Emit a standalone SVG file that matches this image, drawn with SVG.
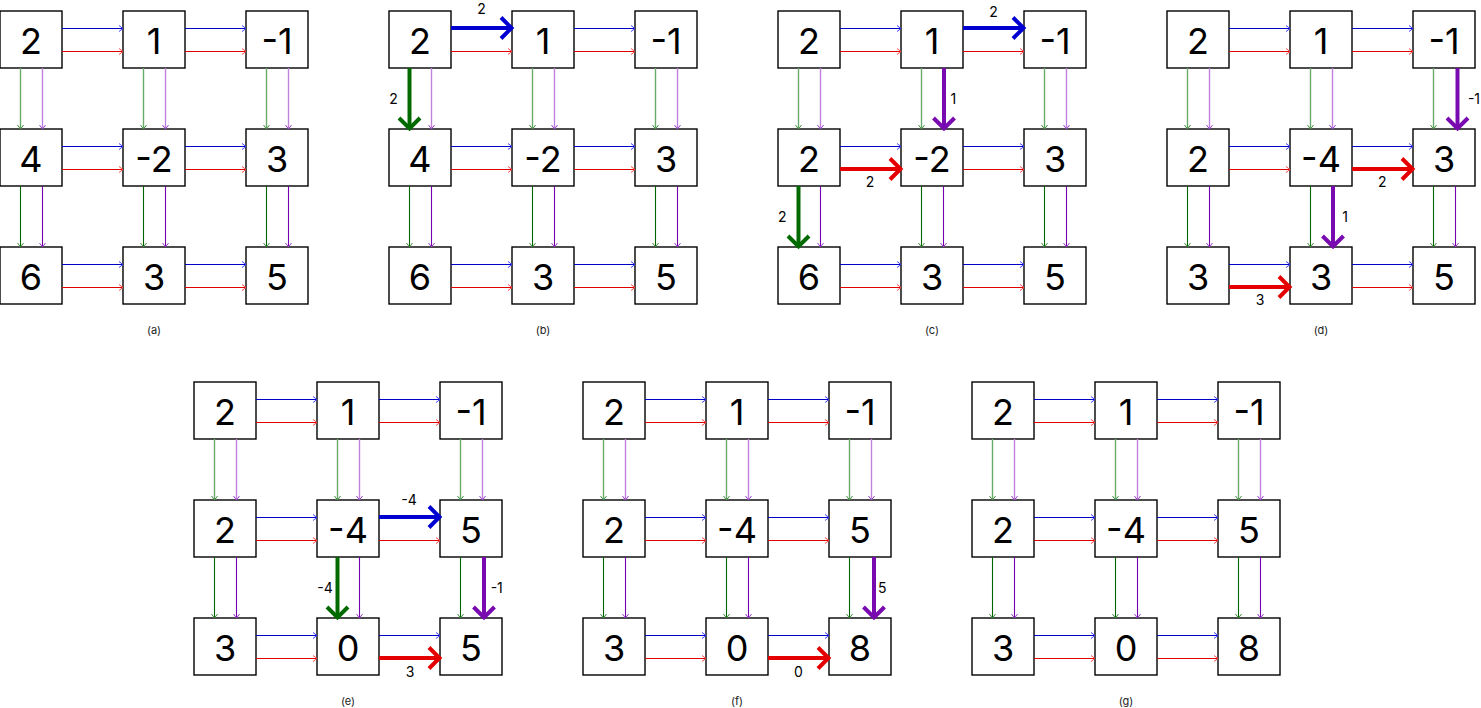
<svg xmlns="http://www.w3.org/2000/svg" width="1481" height="708" viewBox="0 0 1481 708">
<style>
.box{fill:#fff;stroke:#000;stroke-width:1.4}
.n{font-family:Inter,Roboto,"Liberation Sans",sans-serif;font-size:36px;text-anchor:middle;fill:#000}
.lb{font-family:Inter,Roboto,"Liberation Sans",sans-serif;font-size:14px;text-anchor:middle;fill:#000}
.cap{font-family:Inter,Roboto,"Liberation Sans",sans-serif;font-size:11px;text-anchor:middle;fill:#222}
.e path{fill:none;stroke-width:1.1}
.hb{stroke:#0000c8;marker-end:url(#mb)}
.hr{stroke:#e00000;marker-end:url(#mr)}
.vg{stroke:#006400;marker-end:url(#mg)}
.vp{stroke:#7400b0;marker-end:url(#mp)}
.vg.lt{stroke:#68aa68;stroke-width:1.4}
.vp.lt{stroke:#bf80e0;stroke-width:1.4}
.e path.tk{stroke-width:4}
.tb{stroke:#0000d0;marker-end:url(#tb)}
.tr{stroke:#e40000;marker-end:url(#tr)}
.tg{stroke:#006a00;marker-end:url(#tg)}
.tp{stroke:#780ab0;marker-end:url(#tp)}
</style>
<defs>
<marker id="mb" markerUnits="userSpaceOnUse" markerWidth="8" markerHeight="10" refX="5" refY="4" orient="auto" overflow="visible"><path d="M1,1L5,4L1,7" fill="none" stroke="#4040ff" stroke-width="1"/></marker>
<marker id="mr" markerUnits="userSpaceOnUse" markerWidth="8" markerHeight="10" refX="5" refY="4" orient="auto" overflow="visible"><path d="M1,1L5,4L1,7" fill="none" stroke="#ff4848" stroke-width="1"/></marker>
<marker id="mg" markerUnits="userSpaceOnUse" markerWidth="8" markerHeight="10" refX="5" refY="4" orient="auto" overflow="visible"><path d="M1,1L5,4L1,7" fill="none" stroke="#3f8f3f" stroke-width="1"/></marker>
<marker id="mp" markerUnits="userSpaceOnUse" markerWidth="8" markerHeight="10" refX="5" refY="4" orient="auto" overflow="visible"><path d="M1,1L5,4L1,7" fill="none" stroke="#9a40d0" stroke-width="1"/></marker>
<marker id="tb" markerUnits="userSpaceOnUse" markerWidth="24" markerHeight="26" refX="12" refY="11" orient="auto" overflow="visible"><path d="M1,0.5L11.5,11L1,21.5" fill="none" stroke="#0000d0" stroke-width="4"/></marker>
<marker id="tr" markerUnits="userSpaceOnUse" markerWidth="24" markerHeight="26" refX="12" refY="11" orient="auto" overflow="visible"><path d="M1,0.5L11.5,11L1,21.5" fill="none" stroke="#e40000" stroke-width="4"/></marker>
<marker id="tg" markerUnits="userSpaceOnUse" markerWidth="24" markerHeight="26" refX="12" refY="11" orient="auto" overflow="visible"><path d="M1,0.5L11.5,11L1,21.5" fill="none" stroke="#006a00" stroke-width="4"/></marker>
<marker id="tp" markerUnits="userSpaceOnUse" markerWidth="24" markerHeight="26" refX="12" refY="11" orient="auto" overflow="visible"><path d="M1,0.5L11.5,11L1,21.5" fill="none" stroke="#780ab0" stroke-width="4"/></marker>
</defs>
<rect width="1481" height="708" fill="#fff"/>

<!-- Panel a -->
<g id="panel-a" transform="translate(0,11)">
<g id="a-n00"><rect class="box" x="0" y="0" width="62" height="57"/><text class="n" x="31" y="42.5">2</text></g>
<g id="a-n01"><rect class="box" x="123" y="0" width="62" height="57"/><text class="n" x="154" y="42.5">1</text></g>
<g id="a-n02"><rect class="box" x="246" y="0" width="62" height="57"/><text class="n" x="277" y="42.5">-1</text></g>
<g id="a-n10"><rect class="box" x="0" y="118" width="62" height="57"/><text class="n" x="31" y="160.5">4</text></g>
<g id="a-n11"><rect class="box" x="123" y="118" width="62" height="57"/><text class="n" x="154" y="160.5">-2</text></g>
<g id="a-n12"><rect class="box" x="246" y="118" width="62" height="57"/><text class="n" x="277" y="160.5">3</text></g>
<g id="a-n20"><rect class="box" x="0" y="236" width="62" height="57"/><text class="n" x="31" y="278.5">6</text></g>
<g id="a-n21"><rect class="box" x="123" y="236" width="62" height="57"/><text class="n" x="154" y="278.5">3</text></g>
<g id="a-n22"><rect class="box" x="246" y="236" width="62" height="57"/><text class="n" x="277" y="278.5">5</text></g>
<g id="a-edges" class="e">
<path class="hb" d="M62,17.5H123"/><path class="hb" d="M185,17.5H246"/><path class="hb" d="M62,135.5H123"/><path class="hb" d="M185,135.5H246"/><path class="hb" d="M62,253.5H123"/><path class="hb" d="M185,253.5H246"/>
<path class="hr" d="M62,40.5H123"/><path class="hr" d="M185,40.5H246"/><path class="hr" d="M62,158.5H123"/><path class="hr" d="M185,158.5H246"/><path class="hr" d="M62,276.5H123"/><path class="hr" d="M185,276.5H246"/>
<path class="vg lt" d="M20.5,57V118"/><path class="vg lt" d="M143.5,57V118"/><path class="vg lt" d="M266.5,57V118"/><path class="vg" d="M20.5,175V236"/><path class="vg" d="M143.5,175V236"/><path class="vg" d="M266.5,175V236"/>
<path class="vp lt" d="M42.5,57V118"/><path class="vp lt" d="M165.5,57V118"/><path class="vp lt" d="M288.5,57V118"/><path class="vp" d="M42.5,175V236"/><path class="vp" d="M165.5,175V236"/><path class="vp" d="M288.5,175V236"/>
</g>
<text class="cap" x="154" y="323">(a)</text>
</g>

<!-- Panel b -->
<g id="panel-b" transform="translate(389,11)">
<g id="b-n00"><rect class="box" x="0" y="0" width="62" height="57"/><text class="n" x="31" y="42.5">2</text></g>
<g id="b-n01"><rect class="box" x="123" y="0" width="62" height="57"/><text class="n" x="154" y="42.5">1</text></g>
<g id="b-n02"><rect class="box" x="246" y="0" width="62" height="57"/><text class="n" x="277" y="42.5">-1</text></g>
<g id="b-n10"><rect class="box" x="0" y="118" width="62" height="57"/><text class="n" x="31" y="160.5">4</text></g>
<g id="b-n11"><rect class="box" x="123" y="118" width="62" height="57"/><text class="n" x="154" y="160.5">-2</text></g>
<g id="b-n12"><rect class="box" x="246" y="118" width="62" height="57"/><text class="n" x="277" y="160.5">3</text></g>
<g id="b-n20"><rect class="box" x="0" y="236" width="62" height="57"/><text class="n" x="31" y="278.5">6</text></g>
<g id="b-n21"><rect class="box" x="123" y="236" width="62" height="57"/><text class="n" x="154" y="278.5">3</text></g>
<g id="b-n22"><rect class="box" x="246" y="236" width="62" height="57"/><text class="n" x="277" y="278.5">5</text></g>
<g id="b-edges" class="e">
<path class="tk tb" d="M62,17H123"/><path class="hb" d="M185,17.5H246"/><path class="hb" d="M62,135.5H123"/><path class="hb" d="M185,135.5H246"/><path class="hb" d="M62,253.5H123"/><path class="hb" d="M185,253.5H246"/>
<path class="hr" d="M62,40.5H123"/><path class="hr" d="M185,40.5H246"/><path class="hr" d="M62,158.5H123"/><path class="hr" d="M185,158.5H246"/><path class="hr" d="M62,276.5H123"/><path class="hr" d="M185,276.5H246"/>
<path class="tk tg" d="M20.5,57V118"/><path class="vg lt" d="M143.5,57V118"/><path class="vg lt" d="M266.5,57V118"/><path class="vg" d="M20.5,175V236"/><path class="vg" d="M143.5,175V236"/><path class="vg" d="M266.5,175V236"/>
<path class="vp lt" d="M42.5,57V118"/><path class="vp lt" d="M165.5,57V118"/><path class="vp lt" d="M288.5,57V118"/><path class="vp" d="M42.5,175V236"/><path class="vp" d="M165.5,175V236"/><path class="vp" d="M288.5,175V236"/>
<text class="lb" x="92.5" y="3">2</text>
<text class="lb" x="4.5" y="93">2</text>
</g>
<text class="cap" x="154" y="323">(b)</text>
</g>

<!-- Panel c -->
<g id="panel-c" transform="translate(778,11)">
<g id="c-n00"><rect class="box" x="0" y="0" width="62" height="57"/><text class="n" x="31" y="42.5">2</text></g>
<g id="c-n01"><rect class="box" x="123" y="0" width="62" height="57"/><text class="n" x="154" y="42.5">1</text></g>
<g id="c-n02"><rect class="box" x="246" y="0" width="62" height="57"/><text class="n" x="277" y="42.5">-1</text></g>
<g id="c-n10"><rect class="box" x="0" y="118" width="62" height="57"/><text class="n" x="31" y="160.5">2</text></g>
<g id="c-n11"><rect class="box" x="123" y="118" width="62" height="57"/><text class="n" x="154" y="160.5">-2</text></g>
<g id="c-n12"><rect class="box" x="246" y="118" width="62" height="57"/><text class="n" x="277" y="160.5">3</text></g>
<g id="c-n20"><rect class="box" x="0" y="236" width="62" height="57"/><text class="n" x="31" y="278.5">6</text></g>
<g id="c-n21"><rect class="box" x="123" y="236" width="62" height="57"/><text class="n" x="154" y="278.5">3</text></g>
<g id="c-n22"><rect class="box" x="246" y="236" width="62" height="57"/><text class="n" x="277" y="278.5">5</text></g>
<g id="c-edges" class="e">
<path class="hb" d="M62,17.5H123"/><path class="tk tb" d="M185,17H246"/><path class="hb" d="M62,135.5H123"/><path class="hb" d="M185,135.5H246"/><path class="hb" d="M62,253.5H123"/><path class="hb" d="M185,253.5H246"/>
<path class="hr" d="M62,40.5H123"/><path class="hr" d="M185,40.5H246"/><path class="tk tr" d="M62,158H123"/><path class="hr" d="M185,158.5H246"/><path class="hr" d="M62,276.5H123"/><path class="hr" d="M185,276.5H246"/>
<path class="vg lt" d="M20.5,57V118"/><path class="vg lt" d="M143.5,57V118"/><path class="vg lt" d="M266.5,57V118"/><path class="tk tg" d="M20.5,175V236"/><path class="vg" d="M143.5,175V236"/><path class="vg" d="M266.5,175V236"/>
<path class="vp lt" d="M42.5,57V118"/><path class="tk tp" d="M166,57V118"/><path class="vp lt" d="M288.5,57V118"/><path class="vp" d="M42.5,175V236"/><path class="vp" d="M165.5,175V236"/><path class="vp" d="M288.5,175V236"/>
<text class="lb" x="215.5" y="5.7">2</text>
<text class="lb" x="175.3" y="93.3">1</text>
<text class="lb" x="92" y="175.7">2</text>
<text class="lb" x="4.3" y="210.7">2</text>
</g>
<text class="cap" x="154" y="323">(c)</text>
</g>

<!-- Panel d -->
<g id="panel-d" transform="translate(1167,11)">
<g id="d-n00"><rect class="box" x="0" y="0" width="62" height="57"/><text class="n" x="31" y="42.5">2</text></g>
<g id="d-n01"><rect class="box" x="123" y="0" width="62" height="57"/><text class="n" x="154" y="42.5">1</text></g>
<g id="d-n02"><rect class="box" x="246" y="0" width="62" height="57"/><text class="n" x="277" y="42.5">-1</text></g>
<g id="d-n10"><rect class="box" x="0" y="118" width="62" height="57"/><text class="n" x="31" y="160.5">2</text></g>
<g id="d-n11"><rect class="box" x="123" y="118" width="62" height="57"/><text class="n" x="154" y="160.5">-4</text></g>
<g id="d-n12"><rect class="box" x="246" y="118" width="62" height="57"/><text class="n" x="277" y="160.5">3</text></g>
<g id="d-n20"><rect class="box" x="0" y="236" width="62" height="57"/><text class="n" x="31" y="278.5">3</text></g>
<g id="d-n21"><rect class="box" x="123" y="236" width="62" height="57"/><text class="n" x="154" y="278.5">3</text></g>
<g id="d-n22"><rect class="box" x="246" y="236" width="62" height="57"/><text class="n" x="277" y="278.5">5</text></g>
<g id="d-edges" class="e">
<path class="hb" d="M62,17.5H123"/><path class="hb" d="M185,17.5H246"/><path class="hb" d="M62,135.5H123"/><path class="hb" d="M185,135.5H246"/><path class="hb" d="M62,253.5H123"/><path class="hb" d="M185,253.5H246"/>
<path class="hr" d="M62,40.5H123"/><path class="hr" d="M185,40.5H246"/><path class="hr" d="M62,158.5H123"/><path class="tk tr" d="M185,158H246"/><path class="tk tr" d="M62,276H123"/><path class="hr" d="M185,276.5H246"/>
<path class="vg lt" d="M20.5,57V118"/><path class="vg lt" d="M143.5,57V118"/><path class="vg lt" d="M266.5,57V118"/><path class="vg" d="M20.5,175V236"/><path class="vg" d="M143.5,175V236"/><path class="vg" d="M266.5,175V236"/>
<path class="vp lt" d="M42.5,57V118"/><path class="vp lt" d="M165.5,57V118"/><path class="tk tp" d="M290.5,57V118"/><path class="vp" d="M42.5,175V236"/><path class="tk tp" d="M166,175V236"/><path class="vp" d="M288.5,175V236"/>
<text class="lb" x="307" y="93.3">-1</text>
<text class="lb" x="215.3" y="175.7">2</text>
<text class="lb" x="178" y="210.7">1</text>
<text class="lb" x="93" y="294">3</text>
</g>
<text class="cap" x="154" y="323">(d)</text>
</g>

<!-- Panel e -->
<g id="panel-e" transform="translate(194,382)">
<g id="e-n00"><rect class="box" x="0" y="0" width="62" height="57"/><text class="n" x="31" y="42.5">2</text></g>
<g id="e-n01"><rect class="box" x="123" y="0" width="62" height="57"/><text class="n" x="154" y="42.5">1</text></g>
<g id="e-n02"><rect class="box" x="246" y="0" width="62" height="57"/><text class="n" x="277" y="42.5">-1</text></g>
<g id="e-n10"><rect class="box" x="0" y="118" width="62" height="57"/><text class="n" x="31" y="160.5">2</text></g>
<g id="e-n11"><rect class="box" x="123" y="118" width="62" height="57"/><text class="n" x="154" y="160.5">-4</text></g>
<g id="e-n12"><rect class="box" x="246" y="118" width="62" height="57"/><text class="n" x="277" y="160.5">5</text></g>
<g id="e-n20"><rect class="box" x="0" y="236" width="62" height="57"/><text class="n" x="31" y="278.5">3</text></g>
<g id="e-n21"><rect class="box" x="123" y="236" width="62" height="57"/><text class="n" x="154" y="278.5">0</text></g>
<g id="e-n22"><rect class="box" x="246" y="236" width="62" height="57"/><text class="n" x="277" y="278.5">5</text></g>
<g id="e-edges" class="e">
<path class="hb" d="M62,17.5H123"/><path class="hb" d="M185,17.5H246"/><path class="hb" d="M62,135.5H123"/><path class="tk tb" d="M185,135H246"/><path class="hb" d="M62,253.5H123"/><path class="hb" d="M185,253.5H246"/>
<path class="hr" d="M62,40.5H123"/><path class="hr" d="M185,40.5H246"/><path class="hr" d="M62,158.5H123"/><path class="hr" d="M185,158.5H246"/><path class="hr" d="M62,276.5H123"/><path class="tk tr" d="M185,276H246"/>
<path class="vg lt" d="M20.5,57V118"/><path class="vg lt" d="M143.5,57V118"/><path class="vg lt" d="M266.5,57V118"/><path class="vg" d="M20.5,175V236"/><path class="tk tg" d="M143.5,175V236"/><path class="vg" d="M266.5,175V236"/>
<path class="vp lt" d="M42.5,57V118"/><path class="vp lt" d="M165.5,57V118"/><path class="vp lt" d="M288.5,57V118"/><path class="vp" d="M42.5,175V236"/><path class="vp" d="M165.5,175V236"/><path class="tk tp" d="M290,175V236"/>
<text class="lb" x="215" y="123">-4</text>
<text class="lb" x="131" y="211.3">-4</text>
<text class="lb" x="302.7" y="211.3">-1</text>
<text class="lb" x="216" y="294.7">3</text>
</g>
<text class="cap" x="154" y="323">(e)</text>
</g>

<!-- Panel f -->
<g id="panel-f" transform="translate(583,382)">
<g id="f-n00"><rect class="box" x="0" y="0" width="62" height="57"/><text class="n" x="31" y="42.5">2</text></g>
<g id="f-n01"><rect class="box" x="123" y="0" width="62" height="57"/><text class="n" x="154" y="42.5">1</text></g>
<g id="f-n02"><rect class="box" x="246" y="0" width="62" height="57"/><text class="n" x="277" y="42.5">-1</text></g>
<g id="f-n10"><rect class="box" x="0" y="118" width="62" height="57"/><text class="n" x="31" y="160.5">2</text></g>
<g id="f-n11"><rect class="box" x="123" y="118" width="62" height="57"/><text class="n" x="154" y="160.5">-4</text></g>
<g id="f-n12"><rect class="box" x="246" y="118" width="62" height="57"/><text class="n" x="277" y="160.5">5</text></g>
<g id="f-n20"><rect class="box" x="0" y="236" width="62" height="57"/><text class="n" x="31" y="278.5">3</text></g>
<g id="f-n21"><rect class="box" x="123" y="236" width="62" height="57"/><text class="n" x="154" y="278.5">0</text></g>
<g id="f-n22"><rect class="box" x="246" y="236" width="62" height="57"/><text class="n" x="277" y="278.5">8</text></g>
<g id="f-edges" class="e">
<path class="hb" d="M62,17.5H123"/><path class="hb" d="M185,17.5H246"/><path class="hb" d="M62,135.5H123"/><path class="hb" d="M185,135.5H246"/><path class="hb" d="M62,253.5H123"/><path class="hb" d="M185,253.5H246"/>
<path class="hr" d="M62,40.5H123"/><path class="hr" d="M185,40.5H246"/><path class="hr" d="M62,158.5H123"/><path class="hr" d="M185,158.5H246"/><path class="hr" d="M62,276.5H123"/><path class="tk tr" d="M185,276H246"/>
<path class="vg lt" d="M20.5,57V118"/><path class="vg lt" d="M143.5,57V118"/><path class="vg lt" d="M266.5,57V118"/><path class="vg" d="M20.5,175V236"/><path class="vg" d="M143.5,175V236"/><path class="vg" d="M266.5,175V236"/>
<path class="vp lt" d="M42.5,57V118"/><path class="vp lt" d="M165.5,57V118"/><path class="vp lt" d="M288.5,57V118"/><path class="vp" d="M42.5,175V236"/><path class="vp" d="M165.5,175V236"/><path class="tk tp" d="M291,175V236"/>
<text class="lb" x="299.3" y="211.3">5</text>
<text class="lb" x="215.3" y="294.7">0</text>
</g>
<text class="cap" x="154" y="323">(f)</text>
</g>

<!-- Panel g -->
<g id="panel-g" transform="translate(972,382)">
<g id="g-n00"><rect class="box" x="0" y="0" width="62" height="57"/><text class="n" x="31" y="42.5">2</text></g>
<g id="g-n01"><rect class="box" x="123" y="0" width="62" height="57"/><text class="n" x="154" y="42.5">1</text></g>
<g id="g-n02"><rect class="box" x="246" y="0" width="62" height="57"/><text class="n" x="277" y="42.5">-1</text></g>
<g id="g-n10"><rect class="box" x="0" y="118" width="62" height="57"/><text class="n" x="31" y="160.5">2</text></g>
<g id="g-n11"><rect class="box" x="123" y="118" width="62" height="57"/><text class="n" x="154" y="160.5">-4</text></g>
<g id="g-n12"><rect class="box" x="246" y="118" width="62" height="57"/><text class="n" x="277" y="160.5">5</text></g>
<g id="g-n20"><rect class="box" x="0" y="236" width="62" height="57"/><text class="n" x="31" y="278.5">3</text></g>
<g id="g-n21"><rect class="box" x="123" y="236" width="62" height="57"/><text class="n" x="154" y="278.5">0</text></g>
<g id="g-n22"><rect class="box" x="246" y="236" width="62" height="57"/><text class="n" x="277" y="278.5">8</text></g>
<g id="g-edges" class="e">
<path class="hb" d="M62,17.5H123"/><path class="hb" d="M185,17.5H246"/><path class="hb" d="M62,135.5H123"/><path class="hb" d="M185,135.5H246"/><path class="hb" d="M62,253.5H123"/><path class="hb" d="M185,253.5H246"/>
<path class="hr" d="M62,40.5H123"/><path class="hr" d="M185,40.5H246"/><path class="hr" d="M62,158.5H123"/><path class="hr" d="M185,158.5H246"/><path class="hr" d="M62,276.5H123"/><path class="hr" d="M185,276.5H246"/>
<path class="vg lt" d="M20.5,57V118"/><path class="vg lt" d="M143.5,57V118"/><path class="vg lt" d="M266.5,57V118"/><path class="vg" d="M20.5,175V236"/><path class="vg" d="M143.5,175V236"/><path class="vg" d="M266.5,175V236"/>
<path class="vp lt" d="M42.5,57V118"/><path class="vp lt" d="M165.5,57V118"/><path class="vp lt" d="M288.5,57V118"/><path class="vp" d="M42.5,175V236"/><path class="vp" d="M165.5,175V236"/><path class="vp" d="M288.5,175V236"/>
</g>
<text class="cap" x="154" y="323">(g)</text>
</g>
</svg>
